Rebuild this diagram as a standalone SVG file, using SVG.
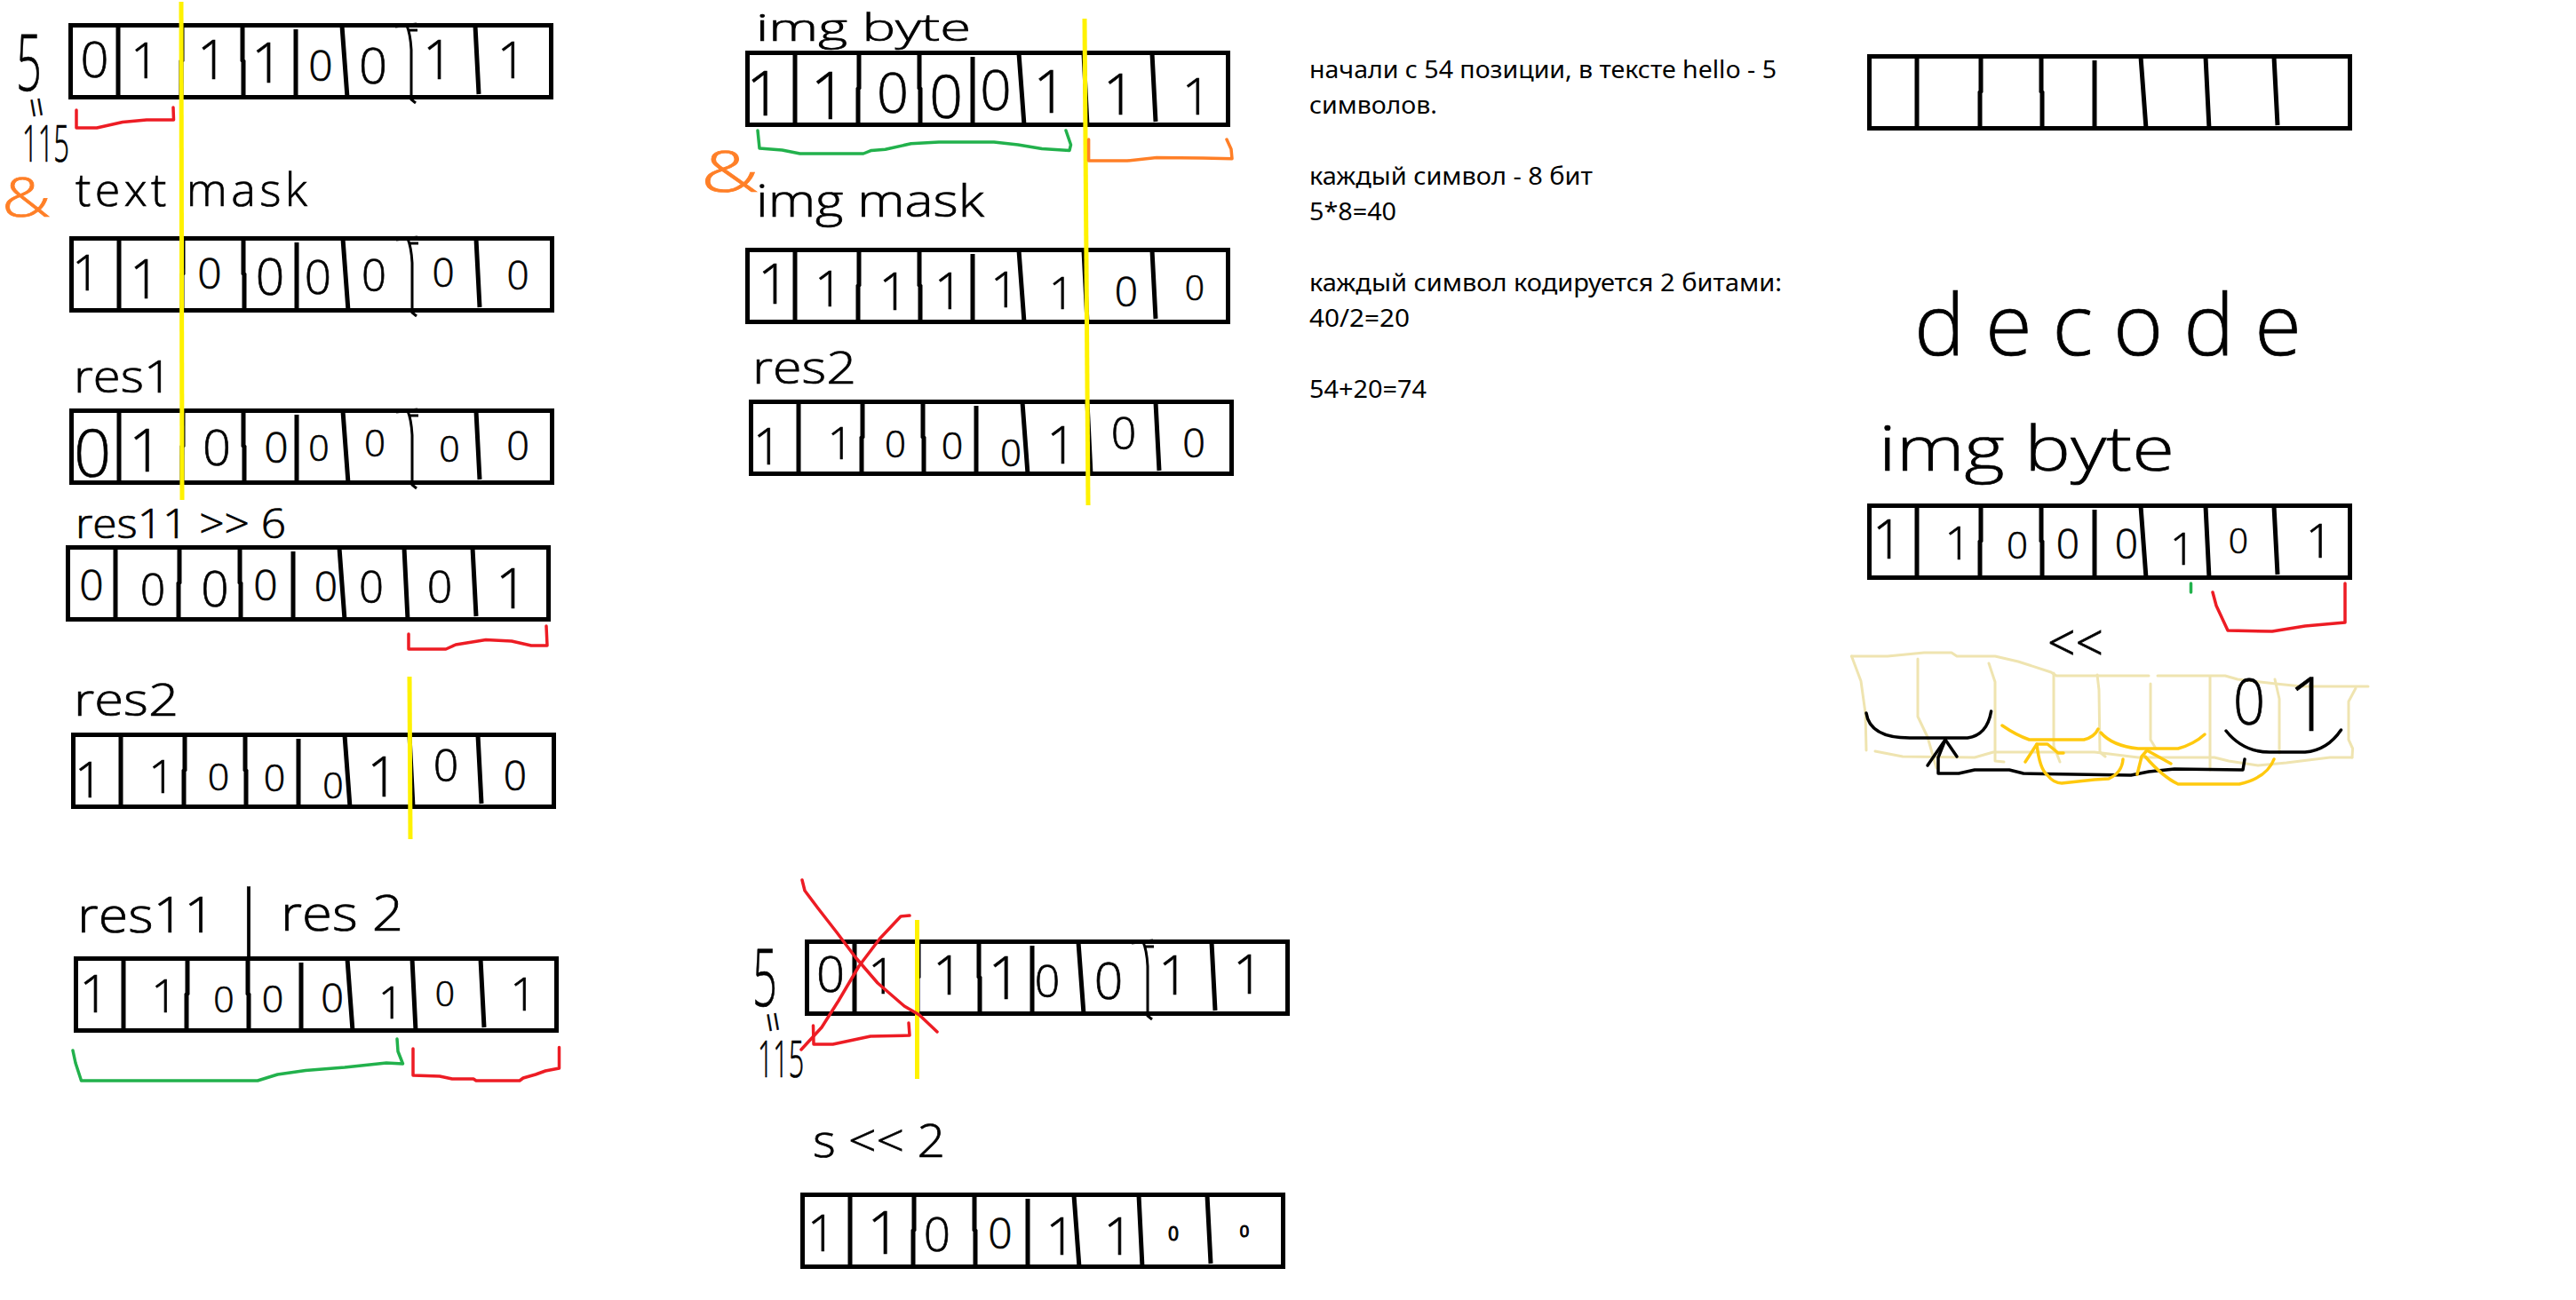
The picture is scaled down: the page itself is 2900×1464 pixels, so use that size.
<svg xmlns="http://www.w3.org/2000/svg" width="2900" height="1464" viewBox="0 0 2900 1464">
<style>
.hw{font-family:"Open Sans","Noto Sans",sans-serif;font-weight:300;fill:#000;stroke:#000;stroke-width:.7}
.d{font-family:"Open Sans","Noto Sans",sans-serif;font-weight:300;fill:#000;stroke:#000;stroke-width:.7;text-anchor:middle}
.tiny{font-weight:400;stroke-width:1}
.note{font-family:"Noto Sans","Open Sans",sans-serif;font-size:28px;fill:#000}
.o{fill:#ff7f27;stroke:#ff7f27}
.ln{fill:none;stroke-linejoin:round;stroke-linecap:round}
.red{stroke:#ed1c24;stroke-width:3.5}
.grn{stroke:#22b14c;stroke-width:3.5}
.org{stroke:#ff7f27;stroke-width:3.5}
.yel{stroke:#fff200;stroke-width:5;stroke-linecap:butt}
.crm{stroke:#efe4b0;stroke-width:3}
.gld{stroke:#ffc90e;stroke-width:3.5}
.blk{stroke:#000;stroke-width:3.5}
.f{fill:none;stroke:#000;stroke-width:5}
.dv{fill:none;stroke:#000;stroke-width:5}
.th{fill:none;stroke:#000;stroke-width:3}
</style>
<defs>
<g id="reg-a">
<rect class="f" x="2.5" y="2.5" width="541" height="81"/>
<path class="dv" d="M56 3V84M128 3V42L127 43V84M196 3V42L197 43V84M256 7V81M308 3L314 84M458 3L462 80"/>
<path class="th" d="M368 4L392 1M381 3Q385 12 386 30V86L391 90M383 8H393"/>
</g>
<g id="reg-b">
<rect class="f" x="2.5" y="2.5" width="541" height="81"/>
<path class="dv" d="M56 3V84M128 3V42L127 43V84M196 3V42L197 43V84M256 7V81M308 3L314 84M381 3L385 84M458 3L462 80"/>
</g>
</defs>
<rect width="2900" height="1464" fill="#fff"/>

<g id="byte-s">
<use href="#reg-a" x="77" y="26"/>
<text class="d" x="106.5" y="87" font-size="56">0</text><text class="d" x="163" y="87.5" font-size="55">1</text><text class="d" x="239" y="89" font-size="60">1</text><text class="d" x="301" y="93" font-size="63">1</text><text class="d" x="361" y="91" font-size="48">0</text><text class="d" x="420" y="93.5" font-size="56">0</text><text class="d" x="493" y="89" font-size="60">1</text><text class="d" x="576" y="87.5" font-size="57">1</text>
<text class="hw" x="18" y="102" font-size="88" textLength="29" lengthAdjust="spacingAndGlyphs">5</text>
<text class="hw" transform="rotate(80 41 121)" x="41" y="135" text-anchor="middle" font-size="40">=</text>
<text class="hw" x="25" y="182" font-size="57" textLength="53" lengthAdjust="spacingAndGlyphs">115</text>
<text class="hw o" x="2" y="244" font-size="60" textLength="55" lengthAdjust="spacingAndGlyphs">&amp;</text>
<text class="hw" x="85" y="232" font-size="52" textLength="261" lengthAdjust="spacing">text mask</text>
</g>
<g id="byte-text-mask">
<use href="#reg-a" x="78" y="266"/>
<text class="d" x="97" y="327" font-size="55">1</text><text class="d" x="163" y="336" font-size="60">1</text><text class="d" x="236" y="325" font-size="48">0</text><text class="d" x="304" y="332" font-size="57">0</text><text class="d" x="358" y="331" font-size="53">0</text><text class="d" x="421" y="328" font-size="49">0</text><text class="d" x="499" y="323" font-size="44">0</text><text class="d" x="583" y="326" font-size="44">0</text>
</g>
<g id="byte-res1">
<use href="#reg-a" x="78" y="460"/>
<text class="hw" x="83" y="442" font-size="50" textLength="111" lengthAdjust="spacingAndGlyphs">res1</text>
<text class="d" x="104" y="537" font-size="74">0</text><text class="d" x="164" y="531" font-size="67">1</text><text class="d" x="244" y="524" font-size="56">0</text><text class="d" x="311" y="521" font-size="48">0</text><text class="d" x="359" y="519" font-size="41">0</text><text class="d" x="422" y="514" font-size="42">0</text><text class="d" x="506" y="520" font-size="41">0</text><text class="d" x="583" y="518" font-size="45">0</text>
</g>
<g id="byte-res11-shift">
<use href="#reg-b" x="74" y="614"/>
<text class="hw" x="85" y="606" font-size="46" textLength="237" lengthAdjust="spacingAndGlyphs">res11 &gt;&gt; 6</text>
<text class="d" x="103" y="676" font-size="48">0</text><text class="d" x="172" y="682" font-size="50">0</text><text class="d" x="242" y="683" font-size="55">0</text><text class="d" x="299" y="676" font-size="48">0</text><text class="d" x="367" y="677" font-size="46">0</text><text class="d" x="418" y="679" font-size="49">0</text><text class="d" x="495" y="679" font-size="50">0</text><text class="d" x="576" y="685" font-size="63">1</text>
</g>
<g id="byte-res2-left">
<use href="#reg-b" x="80" y="825"/>
<text class="hw" x="83" y="806" font-size="50" textLength="118" lengthAdjust="spacingAndGlyphs">res2</text>
<text class="d" x="100" y="898" font-size="56">1</text><text class="d" x="182" y="893" font-size="52">1</text><text class="d" x="246" y="890" font-size="43">0</text><text class="d" x="309" y="891" font-size="43">0</text><text class="d" x="375" y="899" font-size="41">0</text><text class="d" x="431" y="897" font-size="62">1</text><text class="d" x="502" y="880" font-size="50">0</text><text class="d" x="580" y="890" font-size="46">0</text>
</g>
<g id="byte-res11-or-res2">
<use href="#reg-b" x="83" y="1077"/>
<text class="hw" x="87" y="1050" font-size="56" textLength="155" lengthAdjust="spacingAndGlyphs">res11</text>
<text class="hw" x="280" y="1058" font-size="78" text-anchor="middle">|</text>
<text class="hw" x="316" y="1048" font-size="56" textLength="138" lengthAdjust="spacingAndGlyphs">res 2</text>
<text class="d" x="106" y="1140" font-size="59">1</text><text class="d" x="185" y="1140" font-size="52">1</text><text class="d" x="252" y="1140" font-size="41">0</text><text class="d" x="307" y="1140" font-size="43">0</text><text class="d" x="374" y="1140" font-size="45">0</text><text class="d" x="440" y="1147" font-size="49">1</text><text class="d" x="501" y="1133" font-size="39">0</text><text class="d" x="589" y="1138" font-size="52">1</text>
</g>
<g id="byte-img">
<use href="#reg-b" x="839" y="57"/>
<text class="hw" x="851" y="46" font-size="42" textLength="242" lengthAdjust="spacingAndGlyphs">img byte</text>
<text class="hw o" x="789" y="216" font-size="64" textLength="65" lengthAdjust="spacingAndGlyphs">&amp;</text>
<text class="d" x="860" y="130" font-size="70">1</text><text class="d" x="933" y="134" font-size="73">1</text><text class="d" x="1005" y="127" font-size="63">0</text><text class="d" x="1065" y="133" font-size="66">0</text><text class="d" x="1121" y="124" font-size="62">0</text><text class="d" x="1182" y="127" font-size="66">1</text><text class="d" x="1260" y="129" font-size="64">1</text><text class="d" x="1347" y="129" font-size="57">1</text>
</g>
<g id="byte-img-mask">
<use href="#reg-b" x="839" y="279"/>
<text class="hw" x="851" y="244" font-size="50" textLength="257" lengthAdjust="spacingAndGlyphs">img mask</text>
<text class="d" x="871" y="342" font-size="63">1</text><text class="d" x="933" y="345" font-size="56">1</text><text class="d" x="1006" y="349" font-size="59">1</text><text class="d" x="1068" y="348" font-size="57">1</text><text class="d" x="1131" y="346" font-size="56">1</text><text class="d" x="1195" y="348" font-size="49">1</text><text class="d" x="1268" y="345" font-size="46">0</text><text class="d" x="1345" y="338" font-size="39">0</text>
</g>
<g id="byte-res2-mid">
<use href="#reg-b" x="843" y="450"/>
<text class="hw" x="847" y="432" font-size="50" textLength="117" lengthAdjust="spacingAndGlyphs">res2</text>
<text class="d" x="864" y="523" font-size="57">1</text><text class="d" x="946" y="517" font-size="50">1</text><text class="d" x="1008" y="515" font-size="42">0</text><text class="d" x="1072" y="517" font-size="43">0</text><text class="d" x="1138" y="525" font-size="42">0</text><text class="d" x="1195" y="522" font-size="59">1</text><text class="d" x="1265" y="506" font-size="50">0</text><text class="d" x="1344" y="515" font-size="45">0</text>
</g>
<g id="byte-s-crossed">
<use href="#reg-a" x="906" y="1058"/>
<text class="hw" x="847" y="1133" font-size="90" textLength="28" lengthAdjust="spacingAndGlyphs">5</text>
<text class="hw" transform="rotate(80 870 1151)" x="870" y="1165" text-anchor="middle" font-size="40">=</text>
<text class="hw" x="853" y="1213" font-size="57" textLength="52" lengthAdjust="spacingAndGlyphs">115</text>
<text class="d" x="935" y="1117" font-size="56">0</text><text class="d" x="993" y="1119" font-size="55">1</text><text class="d" x="1067" y="1120" font-size="60">1</text><text class="d" x="1131" y="1125" font-size="66">1</text><text class="d" x="1179" y="1123" font-size="50">0</text><text class="d" x="1248" y="1125" font-size="57">0</text><text class="d" x="1321" y="1120" font-size="60">1</text><text class="d" x="1405" y="1119" font-size="60">1</text>
</g>
<g id="byte-s-shift">
<use href="#reg-b" x="901" y="1343"/>
<text class="hw" x="915" y="1303" font-size="52" textLength="149" lengthAdjust="spacingAndGlyphs">s &lt;&lt; 2</text>
<text class="d" x="925" y="1409" font-size="57">1</text><text class="d" x="995" y="1412" font-size="66">1</text><text class="d" x="1055" y="1409" font-size="53">0</text><text class="d" x="1126" y="1406" font-size="48">0</text><text class="d" x="1194" y="1413" font-size="59">1</text><text class="d" x="1259" y="1413" font-size="59">1</text><text class="d tiny" x="1321" y="1397" font-size="21">0</text><text class="d tiny" x="1401" y="1393" font-size="19">0</text>
</g>
<g id="notes">
<text class="note" x="1474" y="88" textLength="526" lengthAdjust="spacingAndGlyphs">начали с 54 позиции, в тексте hello - 5</text>
<text class="note" x="1474" y="128" textLength="144" lengthAdjust="spacingAndGlyphs">символов.</text>
<text class="note" x="1474" y="208" textLength="319" lengthAdjust="spacingAndGlyphs">каждый символ - 8 бит</text>
<text class="note" x="1474" y="248" textLength="98" lengthAdjust="spacingAndGlyphs">5*8=40</text>
<text class="note" x="1474" y="328" textLength="532" lengthAdjust="spacingAndGlyphs">каждый символ кодируется 2 битами:</text>
<text class="note" x="1474" y="368" textLength="113" lengthAdjust="spacingAndGlyphs">40/2=20</text>
<text class="note" x="1474" y="448" textLength="132" lengthAdjust="spacingAndGlyphs">54+20=74</text>
</g>
<g id="byte-empty"><use href="#reg-b" x="2102" y="61"/></g>
<g id="byte-decode">
<text class="hw" x="2155" y="400" font-size="96" textLength="436" lengthAdjust="spacing">decode</text>
<text class="hw" x="2115" y="530" font-size="70" textLength="333" lengthAdjust="spacingAndGlyphs">img byte</text>
<use href="#reg-b" x="2102" y="567"/>
<text class="d" x="2125" y="629" font-size="60">1</text><text class="d" x="2204" y="630" font-size="52">1</text><text class="d" x="2271" y="629" font-size="42">0</text><text class="d" x="2328" y="629" font-size="46">0</text><text class="d" x="2394" y="629" font-size="46">0</text><text class="d" x="2457" y="636" font-size="49">1</text><text class="d" x="2520" y="623" font-size="39">0</text><text class="d" x="2611" y="628" font-size="53">1</text>
</g>

<g id="shift-sketch">
<polyline class="ln crm" points="2084.5,739 2125,739 2166,735 2197,735 2203,739 2246,739 2272,745 2309,757 2315,761 2419,761"/>
<polyline class="ln crm" points="2429,761 2505,761 2519,765 2562,770 2591,773 2666,773"/>
<polyline class="ln crm" points="2084.5,739 2095,767 2100,803 2101,845"/>
<polyline class="ln crm" points="2159,742 2159,807 2170,830 2180,865"/>
<polyline class="ln crm" points="2239,747 2246,768 2246,857 2256,858"/>
<polyline class="ln crm" points="2312,758 2312,840 2319,858"/>
<polyline class="ln crm" points="2361,760 2363,777 2364,847 2370,852"/>
<polyline class="ln crm" points="2421,770 2421,833 2427,843"/>
<polyline class="ln crm" points="2488,762 2488,867"/>
<polyline class="ln crm" points="2561,765 2566,787 2566,848"/>
<polyline class="ln crm" points="2652,775 2644,790 2644,833 2648.6,843 2648,853"/>
<polyline class="ln crm" points="2111,846 2142,852 2223,853 2244,847 2358,847 2407,853 2493,853 2509,857 2542,862 2574,859 2623,853 2648,853"/>
<text class="hw" x="2305" y="745" font-size="58" textLength="63" lengthAdjust="spacingAndGlyphs">&lt;&lt;</text>
<text class="hw" x="2514" y="816" font-size="71" textLength="36" lengthAdjust="spacingAndGlyphs">0</text>
<text class="hw" x="2600" y="823" font-size="85" text-anchor="middle">1</text>
<path class="ln blk" d="M2101 803Q2105 831 2150 831H2215Q2237 828 2241.6 801"/>
<path class="ln blk" d="M2506 823Q2525 847 2555 847H2595Q2620 845 2635.5 822"/>
<polyline class="ln blk" points="2170,862 2190,833 2203,852"/>
<polyline class="ln blk" points="2190,833 2182,853 2182,871 2205,871 2223,867 2262,867 2278,871 2399,873 2419,869 2448,866 2525,867 2527,855"/>
<path class="ln gld" d="M2254 817Q2270 828 2284.5 833H2346Q2358 830 2362 821"/>
<path class="ln gld" d="M2365 825Q2378 840 2407 843H2452Q2470 838 2482 827"/>
<polyline class="ln gld" points="2280,858 2293,838 2305,838 2317,848 2323,848"/>
<path class="ln gld" d="M2293 838Q2296 866 2305 873Q2312 882 2321 882L2358 878L2374 877Q2389 870 2390 855"/>
<polyline class="ln gld" points="2406,872 2411,852 2417,845 2444,860"/>
<path class="ln gld" d="M2415 852Q2435 875 2452 883H2521Q2552 876 2560 855"/>
</g>

<g id="connectors">
<path class="ln yel" d="M204 2L205 563"/>
<path class="ln yel" d="M461 762L462 945"/>
<path class="ln yel" d="M1221 21L1225 569"/>
<path class="ln yel" d="M1032.5 1036V1215"/>
<polyline class="ln red" points="86,124 86,144 109,144 138,137.5 165,135 195.5,135 195,121"/>
<polyline class="ln red" points="460,714 460,731 502,731 513,726 547,720.5 576,722 598,727 616,727 615,705"/>
<polyline class="ln red" points="465,1181 465,1211 495,1212 509,1215 533,1215 536,1217 585,1217 589,1214 603,1210 614,1206 629.5,1203 629.5,1179.5"/>
<polyline class="ln grn" points="82,1183 85,1197 91.5,1217 290,1217 312.5,1210 344,1205.5 388,1202 435,1197 453.5,1198 448,1184 447,1170"/>
<polyline class="ln grn" points="853,147 855,167 880.5,169 900.6,173 972,173 981,169.4 996.6,168.3 1025.6,161.7 1057,160 1119,160 1146,163 1173,167.6 1204,169.4 1205.5,163 1200,147"/>
<polyline class="ln org" points="1225.6,157 1225.6,181 1269,181 1302,177.6 1354,178 1387,178.7 1386,168 1381,157"/>
<polyline class="ln red" points="903,991 906,1003 921,1023 942,1050 963,1078 988,1107 1018,1133 1035,1143 1055,1162"/>
<polyline class="ln red" points="1024,1031 1014,1032 990.5,1057 967,1088 944,1127 925,1157 902,1182"/>
<polyline class="ln red" points="915.5,1155 916,1176 937.6,1176 980,1167 1024,1166 1023,1152"/>
<polyline class="ln red" points="2491,667 2495,682 2508,710 2558,711 2595,705 2640,701 2640,657"/>
<path class="ln grn" d="M2466.5 657V667"/>
</g>
</svg>
